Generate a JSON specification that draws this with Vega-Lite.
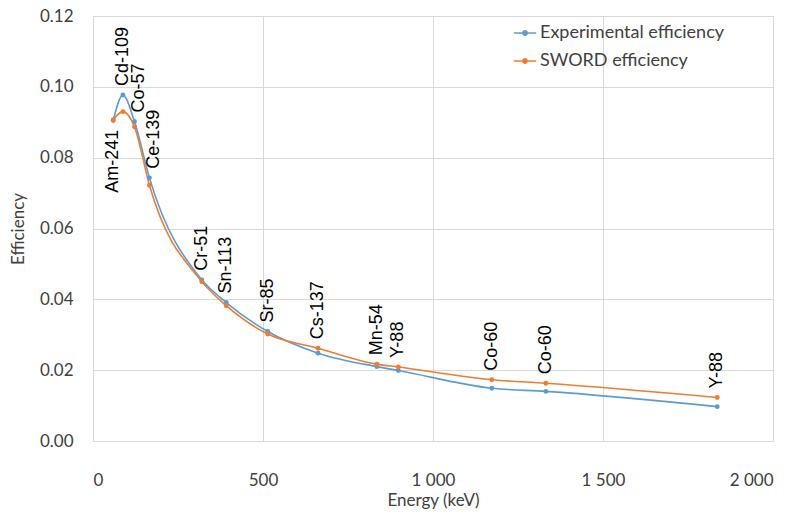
{
  "$schema": "https://vega.github.io/schema/vega-lite/v6.json",
  "width": 680,
  "height": 425,
  "autosize": "none",
  "padding": {"left": 93, "top": 16, "right": 25, "bottom": 74},
  "background": "white",
  "config": {
    "view": {"stroke": "#D9D9D9", "strokeWidth": 1},
    "font": "Lato",
    "axis": {
      "grid": true,
      "gridColor": "#D9D9D9",
      "domain": false,
      "ticks": false,
      "labelFont": "Lato",
      "labelFontSize": 17,
      "labelColor": "#404040",
      "titleFont": "Lato",
      "titleFontSize": 17,
      "titleFontWeight": "normal",
      "titleColor": "#404040"
    }
  },
  "data": {
    "values": [
      {"source": "Am-241", "energy": 59.5, "Experimental efficiency": 0.0905, "SWORD efficiency": 0.0907},
      {"source": "Cd-109", "energy": 88, "Experimental efficiency": 0.0977, "SWORD efficiency": 0.0930},
      {"source": "Co-57", "energy": 122, "Experimental efficiency": 0.0902, "SWORD efficiency": 0.0887},
      {"source": "Ce-139", "energy": 166, "Experimental efficiency": 0.0743, "SWORD efficiency": 0.0722},
      {"source": "Cr-51", "energy": 320, "Experimental efficiency": 0.0455, "SWORD efficiency": 0.0450},
      {"source": "Sn-113", "energy": 392, "Experimental efficiency": 0.0391, "SWORD efficiency": 0.0382},
      {"source": "Sr-85", "energy": 514, "Experimental efficiency": 0.0309, "SWORD efficiency": 0.0302},
      {"source": "Cs-137", "energy": 662, "Experimental efficiency": 0.0248, "SWORD efficiency": 0.0262},
      {"source": "Mn-54", "energy": 835, "Experimental efficiency": 0.0210, "SWORD efficiency": 0.0217},
      {"source": "Y-88", "energy": 898, "Experimental efficiency": 0.0199, "SWORD efficiency": 0.0209},
      {"source": "Co-60", "energy": 1173, "Experimental efficiency": 0.0149, "SWORD efficiency": 0.0173},
      {"source": "Co-60", "energy": 1332, "Experimental efficiency": 0.0140, "SWORD efficiency": 0.0163},
      {"source": "Y-88", "energy": 1836, "Experimental efficiency": 0.0097, "SWORD efficiency": 0.0123}
    ]
  },
  "transform": [
    {"fold": ["Experimental efficiency", "SWORD efficiency"], "as": ["series", "value"]}
  ],
  "encoding": {
    "x": {
      "field": "energy",
      "type": "quantitative",
      "scale": {"domain": [0, 2000], "nice": false},
      "axis": {
        "values": [0, 500, 1000, 1500, 2000],
        "labelExpr": "replace(format(datum.value, ','), ',', ' ')",
        "labelPadding": 31,
        "titlePadding": 4,
        "title": "Energy (keV)"
      }
    },
    "y": {
      "field": "value",
      "type": "quantitative",
      "scale": {"domain": [0, 0.12], "nice": false},
      "axis": {
        "values": [0, 0.02, 0.04, 0.06, 0.08, 0.1, 0.12],
        "format": ".2f",
        "labelPadding": 20,
        "titlePadding": 12,
        "title": "Efficiency"
      }
    }
  },
  "layer": [
    {
      "mark": {"type": "line", "interpolate": "monotone", "strokeWidth": 1.6},
      "encoding": {
        "color": {
          "field": "series",
          "type": "nominal",
          "scale": {"domain": ["Experimental efficiency", "SWORD efficiency"], "range": ["#5B9BD5", "#ED7D31"]},
          "legend": {
            "title": null,
            "orient": "none",
            "legendX": 420,
            "legendY": 5,
            "labelFont": "Lato",
            "labelFontSize": 18,
            "labelColor": "#404040",
            "labelLimit": 400,
            "symbolType": "M-1,0H1M-0.2,0A0.2,0.2 0 1,1 0.2,0A0.2,0.2 0 1,1 -0.2,0Z",
            "symbolSize": 500,
            "symbolStrokeWidth": 1.5,
            "rowPadding": 7,
            "labelOffset": 3,
            "encode": {
              "symbols": {
                "update": {
                  "fill": {"scale": "color", "field": "value"},
                  "stroke": {"scale": "color", "field": "value"}
                }
              }
            }
          }
        }
      }
    },
    {
      "mark": {"type": "point", "filled": true, "size": 24, "opacity": 1},
      "encoding": {
        "color": {"field": "series", "type": "nominal", "legend": null}
      }
    },
    {
      "transform": [{"filter": "datum.source !== 'Am-241' && datum.source !== 'Co-57' && datum.source !== 'Ce-139'"}],
      "mark": {"type": "text", "angle": 270, "align": "left", "baseline": "middle", "dx": 9, "font": "Liberation Sans", "fontSize": 18, "color": "#000000"},
      "encoding": {
        "y": {"aggregate": "max", "field": "value", "type": "quantitative", "title": "Efficiency"},
        "text": {"field": "source", "type": "nominal"}
      }
    },
    {
      "transform": [{"filter": "datum.source === 'Co-57' || datum.source === 'Ce-139'"}],
      "mark": {"type": "text", "angle": 270, "align": "left", "baseline": "middle", "dx": 9, "dy": 5, "font": "Liberation Sans", "fontSize": 18, "color": "#000000"},
      "encoding": {
        "y": {"aggregate": "max", "field": "value", "type": "quantitative", "title": "Efficiency"},
        "text": {"field": "source", "type": "nominal"}
      }
    },
    {
      "transform": [{"filter": "datum.source === 'Am-241'"}],
      "mark": {"type": "text", "angle": 270, "align": "right", "baseline": "middle", "dx": -10, "font": "Liberation Sans", "fontSize": 18, "color": "#000000"},
      "encoding": {
        "y": {"aggregate": "max", "field": "value", "type": "quantitative", "title": "Efficiency"},
        "text": {"field": "source", "type": "nominal"}
      }
    }
  ]
}
